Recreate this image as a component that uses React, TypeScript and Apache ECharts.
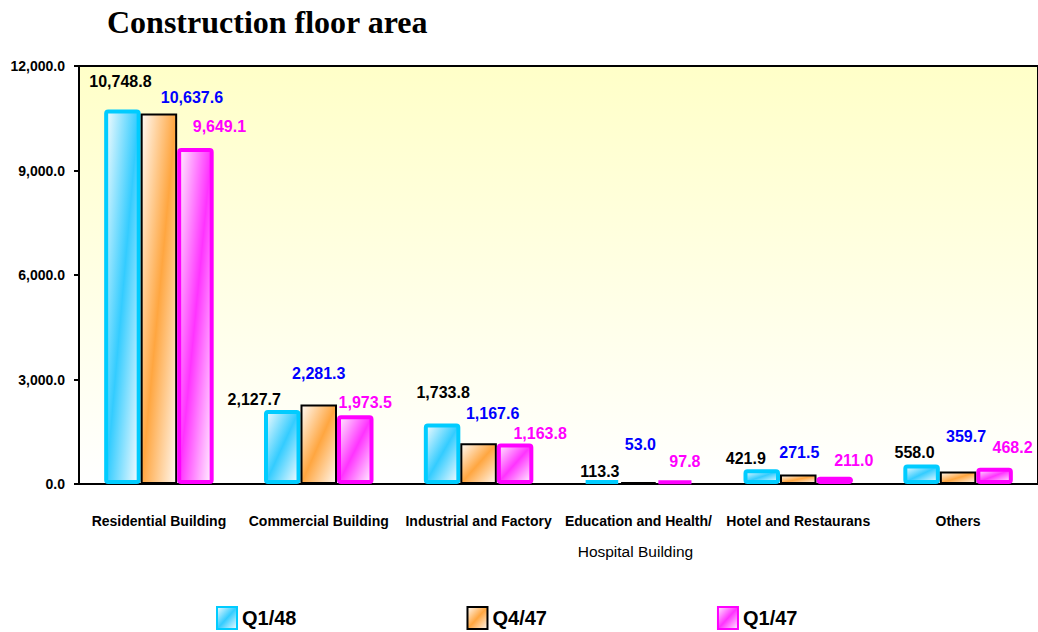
import React, { useEffect, useRef } from "react";
import * as echarts from "echarts";

const categories = [
  "Residential Building",
  "Commercial Building",
  "Industrial and Factory",
  "Education and Health/\nHospital Building",
  "Hotel and Restaurans",
  "Others",
];
const seriesNames = ["Q1/48", "Q4/47", "Q1/47"];
const q148 = [10748.8, 2127.7, 1733.8, 113.3, 421.9, 558.0];
const q447 = [10637.6, 2281.3, 1167.6, 53.0, 271.5, 359.7];
const q147 = [9649.1, 1973.5, 1163.8, 97.8, 211.0, 468.2];
const yTicks = { min: 0, max: 12000, interval: 3000 };

const grad = (stops: [number, string][]) =>
  new echarts.graphic.LinearGradient(
    0,
    0,
    1,
    1,
    stops.map(([offset, color]) => ({ offset, color }))
  );

const fmt = (v: number) =>
  v.toLocaleString("en-US", { minimumFractionDigits: 1, maximumFractionDigits: 1 });

export default function App() {
  const ref = useRef<HTMLDivElement>(null);
  useEffect(() => {
    if (!ref.current) return;
    const chart = echarts.init(ref.current, undefined, { renderer: "svg" });

    // hand-placed label nudges, as in the original chart
    const labelNudges: number[][][] = [
      [[-2, -15], [-28, 3], [1, -18], [-2, 4], [-16, 2], [-7, 1]],
      [[33, -3], [0, -18], [14, -17], [2, -25], [1, -9], [8, -22]],
      [[24, -8], [10, 0], [25, 3], [10, -6], [19, -3], [18, -7]],
    ];
    const withNudges = (vals: number[], s: number) =>
      vals.map((v, i) => ({ value: v, label: { offset: labelNudges[s][i] } }));

    const labelBase = {
      show: true,
      position: "top" as const,
      distance: 5,
      fontFamily: "Liberation Sans, Arial, sans-serif",
      fontWeight: "bold" as const,
      fontSize: 16,
      formatter: (p: any) => fmt(p.value),
    };
    chart.setOption({
      animation: false,
      backgroundColor: "#ffffff",
      title: {
        text: "Construction floor area",
        left: 107,
        top: 6,
        padding: 0,
        textStyle: {
          fontFamily: "Liberation Serif, Times New Roman, serif",
          fontWeight: "bold",
          fontSize: 32,
          color: "#000",
        },
      },
      legend: {
        top: 606,
        left: 216,
        padding: 0,
        itemGap: 170,
        itemWidth: 20,
        itemHeight: 22,
        icon: "rect",
        textStyle: {
          fontFamily: "Liberation Sans, Arial, sans-serif",
          fontWeight: "bold",
          fontSize: 20,
          color: "#000",
        },
        data: seriesNames,
      },
      grid: {
        left: 79,
        right: -10,
        top: 66,
        bottom: 148,
        show: true,
        borderColor: "#000",
        borderWidth: 2,
        backgroundColor: new echarts.graphic.LinearGradient(0, 0, 0, 1, [
          { offset: 0, color: "#FFFFC8" },
          { offset: 1, color: "#FFFFFF" },
        ]),
      },
      xAxis: {
        type: "category",
        data: categories,
        axisLine: { lineStyle: { color: "#000", width: 2 } },
        axisTick: { show: false },
        axisLabel: {
          margin: 21,
          interval: 0,
          color: "#000",
          fontFamily: "Liberation Sans, Arial, sans-serif",
          formatter: (v: string) => {
            const parts = v.split("\n");
            return parts.length > 1
              ? `{b|${parts[0]}}\n{n|${parts[1]}}`
              : `{b|${v}}`;
          },
          rich: {
            b: {
              fontWeight: "bold",
              fontSize: 14,
              lineHeight: 31,
              fontFamily: "Liberation Sans, Arial, sans-serif",
              color: "#000",
            },
            n: {
              fontWeight: "normal",
              fontSize: 15.5,
              lineHeight: 31,
              padding: [0, 6, 0, 0],
              fontFamily: "Liberation Sans, Arial, sans-serif",
              color: "#000",
            },
          },
        },
      },
      yAxis: {
        type: "value",
        min: yTicks.min,
        max: yTicks.max,
        interval: yTicks.interval,
        axisLine: { show: true, lineStyle: { color: "#000", width: 2 } },
        axisTick: { show: true, inside: false, length: 5, lineStyle: { color: "#000", width: 2 } },
        splitLine: { show: false },
        axisLabel: {
          margin: 14,
          color: "#000",
          fontWeight: "bold",
          fontSize: 14,
          fontFamily: "Liberation Sans, Arial, sans-serif",
          formatter: (v: number) => fmt(v),
        },
      },
      series: [
        {
          name: seriesNames[0],
          type: "bar",
          data: withNudges(q148, 0),
          barWidth: 36.5,
          barGap: "0%",
          itemStyle: {
            color: grad([
              [0, "#F4FBFD"],
              [0.5, "#33CCFF"],
              [1, "#F7FCFF"],
            ]),
            borderColor: "#00CCFF",
            borderWidth: 4,
            borderRadius: 2,
          },
          label: { ...labelBase, color: "#000000" },
        },
        {
          name: seriesNames[1],
          type: "bar",
          data: withNudges(q447, 1),
          barWidth: 36.5,
          barGap: "0%",
          itemStyle: {
            color: grad([
              [0, "#FFFAF4"],
              [0.5, "#FFA640"],
              [1, "#FFF8F0"],
            ]),
            borderColor: "#000000",
            borderWidth: 2,
          },
          label: { ...labelBase, color: "#0000FF" },
        },
        {
          name: seriesNames[2],
          type: "bar",
          data: withNudges(q147, 2),
          barWidth: 36.5,
          barGap: "0%",
          itemStyle: {
            color: grad([
              [0, "#FFEEFF"],
              [0.5, "#FF33FF"],
              [1, "#FFF4FF"],
            ]),
            borderColor: "#FF00FF",
            borderWidth: 4,
            borderRadius: 2,
          },
          label: { ...labelBase, color: "#FF00FF" },
        },
      ],
    });
    return () => chart.dispose();
  }, []);
  return (
    <div
      ref={ref}
      style={{ position: "fixed", left: 0, top: 0, width: 1038, height: 632 }}
    />
  );
}
